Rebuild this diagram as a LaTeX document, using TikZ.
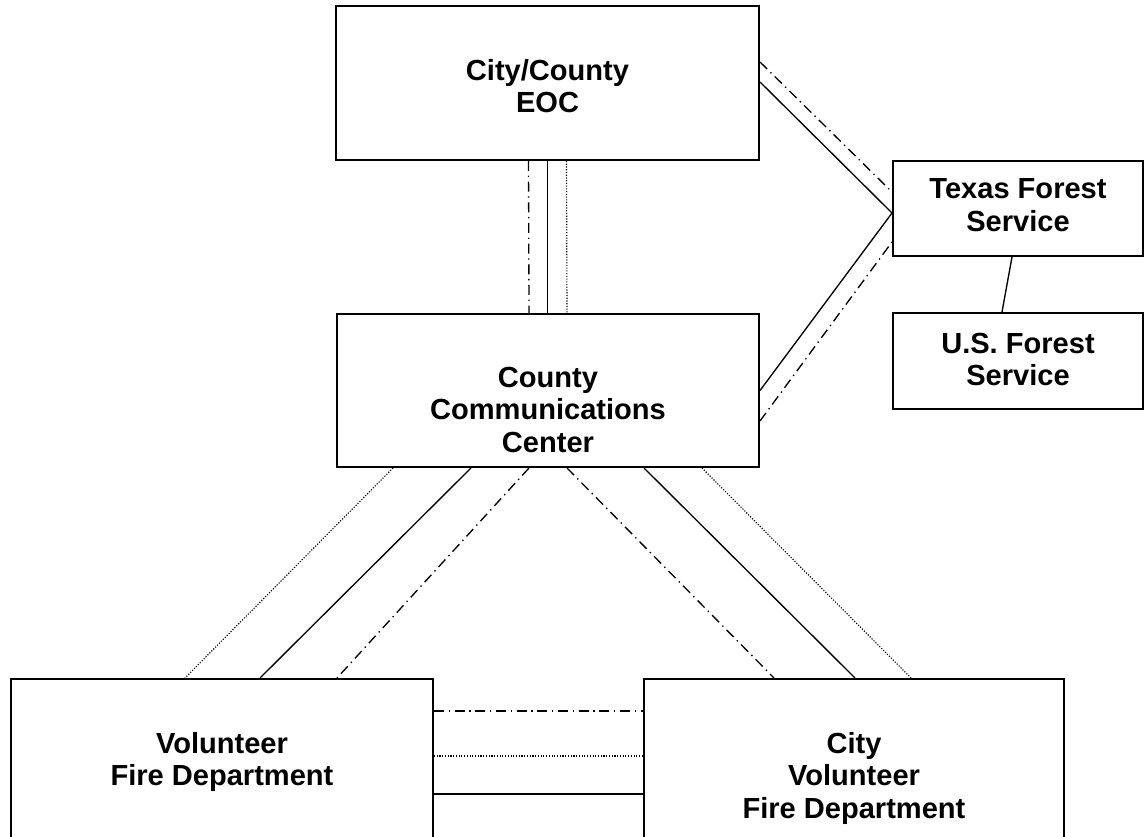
\documentclass[tikz,border=0pt]{standalone}
\usepackage{fontspec}
\setmainfont{Liberation Sans}
\usetikzlibrary{calc}
\newcommand{\boxlabel}[4]{\parbox[c][#2][t]{#1}{\centering\vspace*{#3}#4}}

\begin{document}
\begin{tikzpicture}[x=0.75pt,y=-0.75pt,
  unit/.style={draw,line width=1.5pt,inner sep=0pt,font=\bfseries\fontsize{21.8}{24.4}\selectfont},
  voice/.style={line width=1pt},
  data/.style={line width=1pt,dash pattern=on 7.5pt off 3.5pt on 1pt off 3.5pt},
  page/.style={line width=0.85pt,dash pattern=on 0.85pt off 1.2pt}]
  \clip (0,0) rectangle (1145,837);

  \node[unit] (eoc) at (547.5,83) {\boxlabel{317.25pt}{115.5pt}{39.75pt}{City/County\\EOC}};
  \node[unit] (tfs) at (1018,208.5) {\boxlabel{187.5pt}{71.25pt}{13.5pt}{Texas Forest\\Service}};
  \node[unit] (usfs) at (1018,361) {\boxlabel{187.5pt}{72pt}{15pt}{U.S. Forest\\Service}};
  \node[unit] (ccc) at (548,390.5) {\boxlabel{316.5pt}{114.75pt}{39.75pt}{County\\Communications\\Center}};
  \node[unit] (vfd) at (222,764.5) {\boxlabel{316.5pt}{128.25pt}{39.75pt}{Volunteer\\Fire Department}};
  \node[unit] (cvfd) at (854,764.5) {\boxlabel{315pt}{128.25pt}{39.75pt}{City\\Volunteer\\Fire Department}};

  \draw[data] ($(eoc.south)+(-19,0)$) -- ($(ccc.north)+(-19,0)$);
  \draw[voice] (eoc.south) -- (eoc.south |- ccc.north);
  \draw[page] ($(eoc.south)+(19,0)$) -- ($(ccc.north)+(19,0)$);

  \draw[data] ($(eoc.east)+(0,-21)$) -- ($(tfs.west)+(0,-16.5)$);
  \draw[voice] ($(eoc.east)+(0,-1)$) -- ($(tfs.west)+(0,4.5)$);
  \draw[voice] (ccc.east) -- ($(tfs.west)+(0,4.5)$);
  \draw[data] ($(ccc.east)+(0,30.5)$) -- ($(tfs.west)+(0,33.5)$);
  \draw[voice] ($(tfs.south)+(-6,0)$) -- ($(usfs.north)+(-16,0)$);

  \draw[page] ($(ccc.south)+(-155,0)$) -- ($(vfd.north)+(-37,0)$);
  \draw[voice] ($(ccc.south)+(-77,0)$) -- ($(vfd.north)+(38,0)$);
  \draw[data] ($(ccc.south)+(-19,0)$) -- ($(vfd.north)+(115,0)$);
  \draw[data] ($(ccc.south)+(19,0)$) -- ($(cvfd.north)+(-80,0)$);
  \draw[voice] ($(ccc.south)+(96,0)$) -- ($(cvfd.north)+(1,0)$);
  \draw[page] ($(ccc.south)+(154,0)$) -- ($(cvfd.north)+(57,0)$);

  \draw[data,line width=1.5pt] ($(vfd.east)+(0,-53.5)$) -- ($(cvfd.west)+(0,-53.5)$);
  \draw[page] ($(vfd.east)+(0,-8.5)$) -- ($(cvfd.west)+(0,-8.5)$);
  \draw[voice,line width=1.3pt] ($(vfd.east)+(0,29.5)$) -- ($(cvfd.west)+(0,29.5)$);
\end{tikzpicture}
\end{document}
